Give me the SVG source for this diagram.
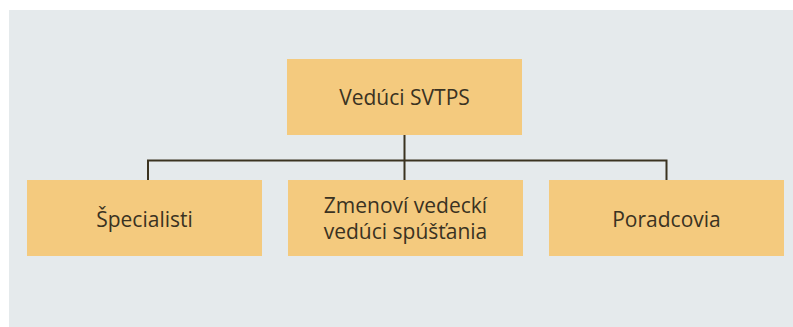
<svg xmlns="http://www.w3.org/2000/svg" width="793" height="327" viewBox="0 0 793 327">
  <style>
    .box { fill: #f4ca7e; }
    .label { font-family: "Open Sans", "Noto Sans", "Liberation Sans", sans-serif; font-size: 21px; fill: #3a3222; text-anchor: middle; }
    .link { fill: none; stroke: #3b3320; stroke-width: 2; }
  </style>
  <rect width="793" height="327" fill="#ffffff"/>
  <rect x="9" y="10" width="784" height="317" fill="#e5eaec"/>

  <g id="connectors">
    <path class="link" d="M404.5 135 V160.5 M148 181 V160.5 H666.5 V181 M404.5 160.5 V181"/>
  </g>

  <g id="node-lead">
    <rect class="box" x="287" y="59" width="235" height="76"/>
    <text class="label" x="404.5" y="105">Vedúci SVTPS</text>
  </g>
  <g id="node-specialists">
    <rect class="box" x="27" y="180" width="235" height="76"/>
    <text class="label" x="144.5" y="226.5">Špecialisti</text>
  </g>
  <g id="node-shift">
    <rect class="box" x="288" y="180" width="235" height="76"/>
    <text class="label" x="405.5" y="213">Zmenoví vedeckí</text>
    <text class="label" x="405.5" y="239">vedúci spúšťania</text>
  </g>
  <g id="node-advisors">
    <rect class="box" x="549" y="180" width="235" height="76"/>
    <text class="label" x="666.5" y="226.5">Poradcovia</text>
  </g>
</svg>
